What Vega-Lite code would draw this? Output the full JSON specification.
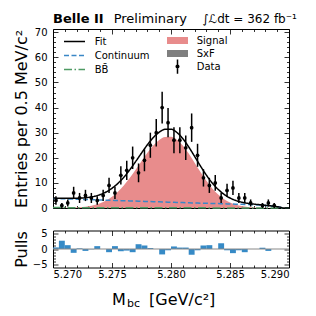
{
  "$schema": "https://vega.github.io/schema/vega-lite/v6.json",
  "background": "white",
  "padding": {"left": 12, "top": 12, "right": 4, "bottom": 2},
  "spacing": 13.5,
  "config": {
    "font": "DejaVu Sans",
    "view": {"stroke": "black", "strokeWidth": 1},
    "axis": {"domain": false, "grid": false, "tickColor": "black", "tickWidth": 0.8, "labelColor": "black", "labelFontSize": 10, "titleColor": "black", "titleFontSize": 16, "titleFontWeight": "normal", "labelFont": "DejaVu Sans", "titleFont": "DejaVu Sans"},
    "legend": {"labelColor": "black", "labelFont": "DejaVu Sans"}
  },
  "datasets": {
    "curve": [
      {"m": 5.2700, "Fit": 3.96, "Continuum": 3.80, "BB": 0.15, "Signal": 0.01, "SxF": 0},
      {"m": 5.2705, "Fit": 3.90, "Continuum": 3.72, "BB": 0.15, "Signal": 0.03, "SxF": 0},
      {"m": 5.2710, "Fit": 3.87, "Continuum": 3.65, "BB": 0.15, "Signal": 0.06, "SxF": 0.005},
      {"m": 5.2715, "Fit": 3.84, "Continuum": 3.57, "BB": 0.14, "Signal": 0.12, "SxF": 0.01},
      {"m": 5.2720, "Fit": 3.88, "Continuum": 3.50, "BB": 0.14, "Signal": 0.22, "SxF": 0.02},
      {"m": 5.2725, "Fit": 3.99, "Continuum": 3.42, "BB": 0.14, "Signal": 0.40, "SxF": 0.03},
      {"m": 5.2730, "Fit": 4.23, "Continuum": 3.35, "BB": 0.13, "Signal": 0.70, "SxF": 0.046},
      {"m": 5.2735, "Fit": 4.66, "Continuum": 3.27, "BB": 0.13, "Signal": 1.19, "SxF": 0.066},
      {"m": 5.2740, "Fit": 5.35, "Continuum": 3.20, "BB": 0.13, "Signal": 1.93, "SxF": 0.092},
      {"m": 5.2745, "Fit": 6.38, "Continuum": 3.12, "BB": 0.12, "Signal": 3.01, "SxF": 0.125},
      {"m": 5.2750, "Fit": 7.85, "Continuum": 3.05, "BB": 0.12, "Signal": 4.51, "SxF": 0.167},
      {"m": 5.2755, "Fit": 9.79, "Continuum": 2.97, "BB": 0.11, "Signal": 6.49, "SxF": 0.215},
      {"m": 5.2760, "Fit": 12.26, "Continuum": 2.90, "BB": 0.11, "Signal": 8.98, "SxF": 0.269},
      {"m": 5.2765, "Fit": 15.18, "Continuum": 2.82, "BB": 0.10, "Signal": 11.93, "SxF": 0.33},
      {"m": 5.2770, "Fit": 18.46, "Continuum": 2.75, "BB": 0.10, "Signal": 15.22, "SxF": 0.389},
      {"m": 5.2775, "Fit": 21.87, "Continuum": 2.67, "BB": 0.09, "Signal": 18.67, "SxF": 0.447},
      {"m": 5.2780, "Fit": 25.19, "Continuum": 2.60, "BB": 0.09, "Signal": 22.00, "SxF": 0.50},
      {"m": 5.2785, "Fit": 28.04, "Continuum": 2.52, "BB": 0.09, "Signal": 24.89, "SxF": 0.544},
      {"m": 5.2790, "Fit": 30.19, "Continuum": 2.45, "BB": 0.08, "Signal": 27.08, "SxF": 0.58},
      {"m": 5.2795, "Fit": 31.35, "Continuum": 2.37, "BB": 0.08, "Signal": 28.30, "SxF": 0.598},
      {"m": 5.2800, "Fit": 31.36, "Continuum": 2.30, "BB": 0.07, "Signal": 28.39, "SxF": 0.598},
      {"m": 5.2805, "Fit": 30.08, "Continuum": 2.22, "BB": 0.07, "Signal": 27.21, "SxF": 0.583},
      {"m": 5.2810, "Fit": 27.63, "Continuum": 2.15, "BB": 0.06, "Signal": 24.87, "SxF": 0.554},
      {"m": 5.2815, "Fit": 24.33, "Continuum": 2.07, "BB": 0.06, "Signal": 21.69, "SxF": 0.512},
      {"m": 5.2820, "Fit": 20.55, "Continuum": 2.00, "BB": 0.06, "Signal": 18.03, "SxF": 0.459},
      {"m": 5.2825, "Fit": 16.70, "Continuum": 1.94, "BB": 0.05, "Signal": 14.31, "SxF": 0.40},
      {"m": 5.2830, "Fit": 13.10, "Continuum": 1.88, "BB": 0.05, "Signal": 10.83, "SxF": 0.34},
      {"m": 5.2835, "Fit": 9.94, "Continuum": 1.81, "BB": 0.04, "Signal": 7.81, "SxF": 0.28},
      {"m": 5.2840, "Fit": 7.40, "Continuum": 1.75, "BB": 0.04, "Signal": 5.38, "SxF": 0.225},
      {"m": 5.2845, "Fit": 5.42, "Continuum": 1.68, "BB": 0.03, "Signal": 3.53, "SxF": 0.175},
      {"m": 5.2850, "Fit": 3.97, "Continuum": 1.60, "BB": 0.03, "Signal": 2.21, "SxF": 0.134},
      {"m": 5.2855, "Fit": 2.98, "Continuum": 1.53, "BB": 0.03, "Signal": 1.32, "SxF": 0.10},
      {"m": 5.2860, "Fit": 2.29, "Continuum": 1.45, "BB": 0.02, "Signal": 0.75, "SxF": 0.071},
      {"m": 5.2865, "Fit": 1.86, "Continuum": 1.38, "BB": 0.02, "Signal": 0.41, "SxF": 0.05},
      {"m": 5.2870, "Fit": 1.56, "Continuum": 1.30, "BB": 0.02, "Signal": 0.21, "SxF": 0.034},
      {"m": 5.2875, "Fit": 1.33, "Continuum": 1.20, "BB": 0.01, "Signal": 0.10, "SxF": 0.022},
      {"m": 5.2880, "Fit": 1.07, "Continuum": 1.00, "BB": 0.01, "Signal": 0.05, "SxF": 0.014},
      {"m": 5.2885, "Fit": 0.84, "Continuum": 0.80, "BB": 0.01, "Signal": 0.02, "SxF": 0.009},
      {"m": 5.2890, "Fit": 0.51, "Continuum": 0.50, "BB": 0, "Signal": 0.01, "SxF": 0.005},
      {"m": 5.2893, "Fit": 0.26, "Continuum": 0.25, "BB": 0, "Signal": 0, "SxF": 0},
      {"m": 5.2895, "Fit": 0, "Continuum": 0, "BB": 0, "Signal": 0, "SxF": 0},
      {"m": 5.2900, "Fit": 0, "Continuum": 0, "BB": 0, "Signal": 0, "SxF": 0}
    ],
    "pts": [
      {"m": 5.27025, "n": 3, "lo": 1.27, "hi": 4.73},
      {"m": 5.27075, "n": 1, "lo": 0, "hi": 2},
      {"m": 5.27125, "n": 2, "lo": 0.59, "hi": 3.41},
      {"m": 5.27175, "n": 6, "lo": 3.55, "hi": 8.45},
      {"m": 5.27225, "n": 4, "lo": 2, "hi": 6},
      {"m": 5.27275, "n": 5, "lo": 2.76, "hi": 7.24},
      {"m": 5.27325, "n": 4, "lo": 2, "hi": 6},
      {"m": 5.27375, "n": 3, "lo": 1.27, "hi": 4.73},
      {"m": 5.27425, "n": 5, "lo": 2.76, "hi": 7.24},
      {"m": 5.27475, "n": 9, "lo": 6, "hi": 12},
      {"m": 5.27525, "n": 6, "lo": 3.55, "hi": 8.45},
      {"m": 5.27575, "n": 13, "lo": 9.39, "hi": 16.61},
      {"m": 5.27625, "n": 15, "lo": 11.13, "hi": 18.87},
      {"m": 5.27675, "n": 20, "lo": 15.53, "hi": 24.47},
      {"m": 5.27725, "n": 14, "lo": 10.26, "hi": 17.74},
      {"m": 5.27775, "n": 19, "lo": 14.64, "hi": 23.36},
      {"m": 5.27825, "n": 25, "lo": 20, "hi": 30},
      {"m": 5.27875, "n": 30, "lo": 24.52, "hi": 35.48},
      {"m": 5.27925, "n": 40, "lo": 33.68, "hi": 46.32},
      {"m": 5.27975, "n": 34, "lo": 28.17, "hi": 39.83},
      {"m": 5.28025, "n": 27, "lo": 21.8, "hi": 32.2},
      {"m": 5.28075, "n": 27, "lo": 21.8, "hi": 32.2},
      {"m": 5.28125, "n": 24, "lo": 19.1, "hi": 28.9},
      {"m": 5.28175, "n": 32, "lo": 26.34, "hi": 37.66},
      {"m": 5.28225, "n": 21, "lo": 16.42, "hi": 25.58},
      {"m": 5.28275, "n": 12, "lo": 8.54, "hi": 15.46},
      {"m": 5.28325, "n": 9, "lo": 6, "hi": 12},
      {"m": 5.28375, "n": 10, "lo": 6.84, "hi": 13.16},
      {"m": 5.28425, "n": 4, "lo": 2, "hi": 6},
      {"m": 5.28475, "n": 7, "lo": 4.35, "hi": 9.65},
      {"m": 5.28525, "n": 8, "lo": 5.17, "hi": 10.83},
      {"m": 5.28575, "n": 4, "lo": 2, "hi": 6},
      {"m": 5.28625, "n": 4, "lo": 2, "hi": 6},
      {"m": 5.28675, "n": 2, "lo": 0.59, "hi": 3.41},
      {"m": 5.28775, "n": 1, "lo": 0, "hi": 2},
      {"m": 5.28825, "n": 2, "lo": 0.59, "hi": 3.41},
      {"m": 5.28875, "n": 1, "lo": 0, "hi": 2}
    ],
    "pulls": [
      {"a": 5.2700, "b": 5.2705, "p": 0.5},
      {"a": 5.2705, "b": 5.2710, "p": 2.6},
      {"a": 5.2710, "b": 5.2715, "p": 1.2},
      {"a": 5.2715, "b": 5.2720, "p": -1.2},
      {"a": 5.2720, "b": 5.2725, "p": 0.2},
      {"a": 5.2725, "b": 5.2730, "p": -0.6},
      {"a": 5.2730, "b": 5.2735, "p": -0.1},
      {"a": 5.2735, "b": 5.2740, "p": 0.9},
      {"a": 5.2740, "b": 5.2745, "p": 0},
      {"a": 5.2745, "b": 5.2750, "p": -1.0},
      {"a": 5.2750, "b": 5.2755, "p": 0.9},
      {"a": 5.2755, "b": 5.2760, "p": -0.7},
      {"a": 5.2760, "b": 5.2765, "p": -0.5},
      {"a": 5.2765, "b": 5.2770, "p": -1.0},
      {"a": 5.2770, "b": 5.2775, "p": 1.5},
      {"a": 5.2775, "b": 5.2780, "p": 1.1},
      {"a": 5.2780, "b": 5.2785, "p": 0.3},
      {"a": 5.2785, "b": 5.2790, "p": 0},
      {"a": 5.2790, "b": 5.2795, "p": -1.7},
      {"a": 5.2795, "b": 5.2800, "p": -0.4},
      {"a": 5.2800, "b": 5.2805, "p": 0.8},
      {"a": 5.2805, "b": 5.2810, "p": 0.45},
      {"a": 5.2810, "b": 5.2815, "p": 0.45},
      {"a": 5.2815, "b": 5.2820, "p": -1.8},
      {"a": 5.2820, "b": 5.2825, "p": -0.4},
      {"a": 5.2825, "b": 5.2830, "p": 1.1},
      {"a": 5.2830, "b": 5.2835, "p": 1.2},
      {"a": 5.2835, "b": 5.2840, "p": 0},
      {"a": 5.2840, "b": 5.2845, "p": 1.8},
      {"a": 5.2845, "b": 5.2850, "p": -0.4},
      {"a": 5.2850, "b": 5.2855, "p": -1.3},
      {"a": 5.2855, "b": 5.2860, "p": -0.4},
      {"a": 5.2860, "b": 5.2865, "p": -1.0},
      {"a": 5.2865, "b": 5.2870, "p": 0},
      {"a": 5.2870, "b": 5.2875, "p": 0},
      {"a": 5.2875, "b": 5.2880, "p": 0.4},
      {"a": 5.2880, "b": 5.2885, "p": -0.6},
      {"a": 5.2885, "b": 5.2890, "p": 0},
      {"a": 5.2890, "b": 5.2895, "p": 0},
      {"a": 5.2895, "b": 5.2900, "p": 0}
    ]
  },
  "vconcat": [
    {
      "width": 236,
      "height": 179,
      "resolve": {"axis": {"x": "independent", "y": "independent"}},
      "layer": [
        {
          "data": {"name": "curve"},
          "mark": {"type": "area", "interpolate": "monotone"},
          "encoding": {
            "x": {"field": "m", "type": "quantitative", "scale": {"domain": [5.27, 5.29], "nice": false, "zero": false},
              "axis": {"orient": "bottom", "title": null, "labels": false,
                "values": [5.270,5.271,5.272,5.273,5.274,5.275,5.276,5.277,5.278,5.279,5.280,5.281,5.282,5.283,5.284,5.285,5.286,5.287,5.288,5.289,5.290],
                "tickSize": {"condition": {"test": "abs(datum.value*200 - round(datum.value*200)) < 0.01", "value": -5}, "value": -2.5}}},
            "y": {"field": "SxF", "type": "quantitative", "scale": {"domain": [0, 71.3], "nice": false},
              "axis": {"orient": "left", "title": "Entries per 0.5 MeV/c²", "titlePadding": 4, "minExtent": 20, "maxExtent": 20, "labelPadding": 11,
                "values": [0,2,4,6,8,10,12,14,16,18,20,22,24,26,28,30,32,34,36,38,40,42,44,46,48,50,52,54,56,58,60,62,64,66,68,70],
                "labelExpr": "datum.value % 10 === 0 ? datum.label : ''",
                "tickSize": {"condition": {"test": "datum.value % 10 === 0", "value": -5}, "value": -2.5}}},
            "fill": {"datum": "SxF", "scale": {"domain": ["Signal", "SxF", "Data"], "range": ["#e88c8c", "#7f7f7f", "black"]},
              "legend": {"title": null, "orient": "none", "legendX": 117, "legendY": 4, "symbolSize": 225, "symbolStrokeWidth": 0, "symbolOpacity": 1, "labelFontSize": 10, "labelOffset": 11.7, "rowPadding": 0, "padding": 0}}
          }
        },
        {
          "data": {"name": "curve"},
          "mark": {"type": "area", "interpolate": "monotone"},
          "encoding": {
            "x": {"field": "m", "type": "quantitative",
              "axis": {"orient": "top", "title": null, "labels": false,
                "values": [5.270,5.271,5.272,5.273,5.274,5.275,5.276,5.277,5.278,5.279,5.280,5.281,5.282,5.283,5.284,5.285,5.286,5.287,5.288,5.289,5.290],
                "tickSize": {"condition": {"test": "abs(datum.value*200 - round(datum.value*200)) < 0.01", "value": -5}, "value": -2.5}}},
            "y": {"field": "Signal", "type": "quantitative",
              "axis": {"orient": "right", "title": null, "labels": false,
                "values": [0,2,4,6,8,10,12,14,16,18,20,22,24,26,28,30,32,34,36,38,40,42,44,46,48,50,52,54,56,58,60,62,64,66,68,70],
                "tickSize": {"condition": {"test": "datum.value % 10 === 0", "value": -5}, "value": -2.5}}},
            "fill": {"datum": "Signal"}
          }
        },
        {
          "data": {"name": "curve"},
          "mark": {"type": "line", "interpolate": "monotone", "strokeWidth": 1.5},
          "encoding": {
            "x": {"field": "m", "type": "quantitative", "axis": null},
            "y": {"field": "Continuum", "type": "quantitative", "axis": null},
            "stroke": {"datum": "Continuum", "scale": {"domain": ["Fit", "Continuum", "BB̄"], "range": ["black", "#3a87c6", "#4e9a63"]},
              "legend": {"title": null, "orient": "none", "legendX": 13, "legendY": 4, "symbolType": "M-1.4,0H1.4", "symbolSize": 225, "symbolStrokeWidth": 1.5, "labelFontSize": 10, "labelOffset": 11.7, "rowPadding": 0, "padding": 0}},
            "strokeDash": {"datum": "Continuum", "scale": {"domain": ["Fit", "Continuum", "BB̄"], "range": [[1, 0], [5, 2.5], [8, 2.5, 1.5, 2.5]]},
              "legend": {"title": null, "orient": "none", "legendX": 13, "legendY": 4, "symbolType": "M-1.4,0H1.4", "symbolSize": 225, "symbolStrokeWidth": 1.5, "labelFontSize": 10, "labelOffset": 11.7, "rowPadding": 0, "padding": 0}}
          }
        },
        {
          "data": {"name": "curve"},
          "mark": {"type": "line", "interpolate": "monotone", "strokeWidth": 1.5},
          "encoding": {
            "x": {"field": "m", "type": "quantitative", "axis": null},
            "y": {"field": "BB", "type": "quantitative", "axis": null},
            "stroke": {"datum": "BB̄"},
            "strokeDash": {"datum": "BB̄"}
          }
        },
        {
          "data": {"name": "curve"},
          "mark": {"type": "line", "interpolate": "monotone", "strokeWidth": 1.5},
          "encoding": {
            "x": {"field": "m", "type": "quantitative", "axis": null},
            "y": {"field": "Fit", "type": "quantitative", "axis": null},
            "stroke": {"datum": "Fit"},
            "strokeDash": {"datum": "Fit"}
          }
        },
        {
          "data": {"name": "pts"},
          "mark": {"type": "rule", "color": "black", "strokeWidth": 1.5},
          "encoding": {
            "x": {"field": "m", "type": "quantitative", "axis": null},
            "y": {"field": "lo", "type": "quantitative", "axis": null},
            "y2": {"field": "hi"}
          }
        },
        {
          "data": {"name": "pts"},
          "mark": {"type": "circle", "color": "black", "size": 14, "opacity": 1},
          "encoding": {
            "x": {"field": "m", "type": "quantitative", "axis": null},
            "y": {"field": "n", "type": "quantitative", "axis": null}
          }
        },
        {
          "data": {"name": "pts"},
          "mark": {"type": "point", "filled": true, "opacity": 0},
          "encoding": {
            "x": {"field": "m", "type": "quantitative", "axis": null},
            "y": {"field": "n", "type": "quantitative", "axis": null},
            "fill": {"datum": "Data"},
            "shape": {"datum": "Data", "scale": {"domain": ["Signal", "SxF", "Data"], "range": ["M-1.4,-0.47H1.4V0.47H-1.4Z", "M-1.4,-0.47H1.4V0.47H-1.4Z", "M-0.1,-0.95H0.1V0.95H-0.1Z M-0.27,0A0.27,0.27,0,1,1,0.27,0A0.27,0.27,0,1,1,-0.27,0Z"]},
              "legend": {"title": null, "orient": "none", "legendX": 117, "legendY": 4, "symbolSize": 225, "symbolStrokeWidth": 0, "symbolOpacity": 1, "labelFontSize": 10, "labelOffset": 11.7, "rowPadding": 0, "padding": 0}}
          }
        },
        {
          "data": {"values": [{}]},
          "mark": {"type": "text", "align": "left", "baseline": "alphabetic", "fontSize": 13, "fontWeight": "bold", "color": "black"},
          "encoding": {
            "x": {"datum": 5.270, "type": "quantitative", "axis": null},
            "y": {"datum": 73.7, "type": "quantitative", "axis": null},
            "text": {"value": "Belle II"}
          }
        },
        {
          "data": {"values": [{}]},
          "mark": {"type": "text", "align": "left", "baseline": "alphabetic", "fontSize": 13, "color": "black"},
          "encoding": {
            "x": {"datum": 5.27514, "type": "quantitative", "axis": null},
            "y": {"datum": 73.7, "type": "quantitative", "axis": null},
            "text": {"value": "Preliminary"}
          }
        },
        {
          "data": {"values": [{}]},
          "mark": {"type": "text", "align": "left", "baseline": "alphabetic", "fontSize": 12, "color": "black"},
          "encoding": {
            "x": {"datum": 5.28265, "type": "quantitative", "axis": null},
            "y": {"datum": 73.7, "type": "quantitative", "axis": null},
            "text": {"value": "∫ℒdt = 362 fb⁻¹"}
          }
        }
      ]
    },
    {
      "width": 236,
      "height": 37,
      "resolve": {"axis": {"x": "independent", "y": "independent"}},
      "layer": [
        {
          "data": {"name": "pulls"},
          "mark": {"type": "bar", "color": "#2b84c3", "opacity": 0.95},
          "encoding": {
            "x": {"field": "a", "type": "quantitative", "scale": {"domain": [5.27, 5.29], "nice": false, "zero": false},
              "axis": {"orient": "bottom", "title": null, "labelPadding": 7,
                "values": [5.270,5.271,5.272,5.273,5.274,5.275,5.276,5.277,5.278,5.279,5.280,5.281,5.282,5.283,5.284,5.285,5.286,5.287,5.288,5.289,5.290],
                "labelExpr": "abs(datum.value*200 - round(datum.value*200)) < 0.01 ? format(datum.value, '.3f') : ''",
                "tickSize": {"condition": {"test": "abs(datum.value*200 - round(datum.value*200)) < 0.01", "value": -5}, "value": -2.5}}},
            "x2": {"field": "b"},
            "y": {"field": "p", "type": "quantitative", "scale": {"domain": [-5.8, 5.8], "nice": false},
              "axis": {"orient": "left", "title": "Pulls", "titlePadding": 4, "minExtent": 20, "maxExtent": 20, "labelPadding": 11,
                "values": [-5,-4,-3,-2,-1,0,1,2,3,4,5],
                "labelExpr": "datum.value % 5 === 0 ? datum.label : ''",
                "tickSize": {"condition": {"test": "datum.value % 5 === 0", "value": -5}, "value": -2.5}}},
            "y2": {"datum": 0}
          }
        },
        {
          "data": {"values": [{}]},
          "mark": {"type": "rule", "color": "#888888", "strokeWidth": 1},
          "encoding": {
            "y": {"datum": 0, "type": "quantitative", "axis": null}
          }
        },
        {
          "data": {"values": [{}]},
          "mark": {"type": "text", "align": "left", "baseline": "alphabetic", "fontSize": 16, "color": "black"},
          "encoding": {
            "x": {"datum": 5.27501, "type": "quantitative",
              "axis": {"orient": "top", "title": null, "labels": false,
                "values": [5.270,5.271,5.272,5.273,5.274,5.275,5.276,5.277,5.278,5.279,5.280,5.281,5.282,5.283,5.284,5.285,5.286,5.287,5.288,5.289,5.290],
                "tickSize": {"condition": {"test": "abs(datum.value*200 - round(datum.value*200)) < 0.01", "value": -5}, "value": -2.5}}},
            "y": {"datum": -17.6, "type": "quantitative",
              "axis": {"orient": "right", "title": null, "labels": false,
                "values": [-5,-4,-3,-2,-1,0,1,2,3,4,5],
                "tickSize": {"condition": {"test": "datum.value % 5 === 0", "value": -5}, "value": -2.5}}},
            "text": {"value": "M"}
          }
        },
        {
          "data": {"values": [{}]},
          "mark": {"type": "text", "align": "left", "baseline": "alphabetic", "fontSize": 11, "color": "black"},
          "encoding": {
            "x": {"datum": 5.27628, "type": "quantitative", "axis": null},
            "y": {"datum": -18.3, "type": "quantitative", "axis": null},
            "text": {"value": "bc"}
          }
        },
        {
          "data": {"values": [{}]},
          "mark": {"type": "text", "align": "center", "baseline": "alphabetic", "fontSize": 16, "color": "black"},
          "encoding": {
            "x": {"datum": 5.28095, "type": "quantitative", "axis": null},
            "y": {"datum": -17.6, "type": "quantitative", "axis": null},
            "text": {"value": "[GeV/c²]"}
          }
        }
      ]
    }
  ]
}
